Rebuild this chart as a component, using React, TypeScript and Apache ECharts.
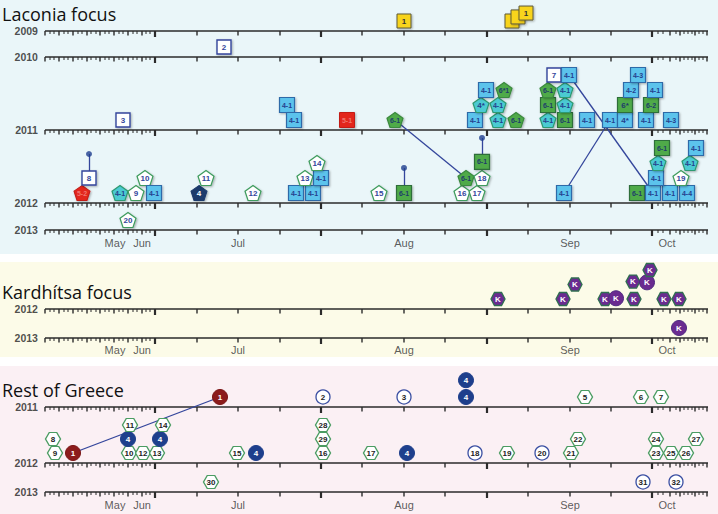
import React, { useEffect, useRef } from "react";
import * as echarts from "echarts";

// ---------- DATA ----------
// Each case: [timeline position, axis row, stack level, marker type, label]
type Mk = [number, string, number, string, string];

const laconiaCases: Mk[] = [
  [404, "L09", 1, "yel", "1"],
  [512, "L09", 1, "yel", ""],
  [518, "L09", 1.27, "yel", ""],
  [526, "L09", 1.53, "yel", "1"],
  [224, "L10", 1, "wsq", "2"],
  [123, "L11", 1, "wsq", "3"],
  [287, "L11", 2, "bsq", "4-1"],
  [294, "L11", 1, "bsq", "4-1"],
  [347, "L11", 1, "rsq", "5-1"],
  [395, "L11", 1, "gpe", "6-1"],
  [475, "L11", 1, "bsq", "4-1"],
  [481, "L11", 2, "cpe", "4*"],
  [486, "L11", 3, "bsq", "4-1"],
  [498, "L11", 1, "cpe", "4-1"],
  [498, "L11", 2, "cpe", "4-1"],
  [504, "L11", 3, "gpe", "6*1"],
  [516, "L11", 1, "gpe", "6-1"],
  [548, "L11", 1, "cpe", "4-1"],
  [548, "L11", 2, "gsq", "6-1"],
  [548, "L11", 3, "gpe", "6-1"],
  [554, "L11", 4, "wsq", "7"],
  [565, "L11", 1, "gsq", "6-1"],
  [565, "L11", 2, "cpe", "4-1"],
  [565, "L11", 3, "cpe", "4-1"],
  [569, "L11", 4, "bsq", "4-1"],
  [587, "L11", 1, "bsq", "4-1"],
  [610, "L11", 1, "bsq", "4-1"],
  [625, "L11", 1, "bsq", "4*"],
  [625, "L11", 2, "gsq", "6*"],
  [631, "L11", 3, "bsq", "4-2"],
  [638, "L11", 4, "bsq", "4-3"],
  [646, "L11", 1, "bsq", "4-1"],
  [651, "L11", 2, "gsq", "6-2"],
  [655, "L11", 3, "bsq", "4-1"],
  [671, "L11", 1, "bsq", "4-3"],
  [82, "L12", 1, "rpe", "5-2"],
  [89, "L12", 2, "wsq", "8"],
  [120, "L12", 1, "cpe", "4-1"],
  [136, "L12", 1, "wpe", "9"],
  [145, "L12", 2, "wpe", "10"],
  [154, "L12", 1, "bsq", "4-1"],
  [199, "L12", 1, "npe", "4"],
  [206, "L12", 2, "wpe", "11"],
  [253, "L12", 1, "wpe", "12"],
  [296, "L12", 1, "bsq", "4-1"],
  [313, "L12", 1, "bsq", "4-1"],
  [305, "L12", 2, "wpe", "13"],
  [321, "L12", 2, "bsq", "4-1"],
  [317, "L12", 3, "wpe", "14"],
  [379, "L12", 1, "wpe", "15"],
  [404, "L12", 1, "gsq", "6-1"],
  [462, "L12", 1, "wpe", "16"],
  [477, "L12", 1, "wpe", "17"],
  [466, "L12", 2, "gpe", "6-1"],
  [482, "L12", 2, "wpe", "18"],
  [482, "L12", 3.07, "gsq", "6-1"],
  [564, "L12", 1, "bsq", "4-1"],
  [637, "L12", 1, "gsq", "6-1"],
  [653, "L12", 1, "bsq", "4-1"],
  [670, "L12", 1, "bsq", "4-1"],
  [687, "L12", 1, "bsq", "4-4"],
  [656, "L12", 2, "bsq", "4-1"],
  [658, "L12", 3, "cpe", "4-1"],
  [662, "L12", 4, "gsq", "6-1"],
  [681, "L12", 2, "wpe", "19"],
  [690, "L12", 3, "cpe", "4-1"],
  [696, "L12", 4, "bsq", "4-1"],
  [128, "L13", 1, "wpe", "20"],
];

const kardhitsaCases: Mk[] = [
  [498, "K12", 1, "khx", "K"],
  [563, "K12", 1, "khx", "K"],
  [575, "K12", 2, "khx", "K"],
  [605, "K12", 1, "khx", "K"],
  [616, "K12", 1.05, "kci", "K"],
  [634, "K12", 1, "khx", "K"],
  [633, "K12", 2.2, "khx", "K"],
  [647, "K12", 2.15, "kci", "K"],
  [650, "K12", 3, "khx", "K"],
  [664, "K12", 1, "khx", "K"],
  [679, "K12", 1, "khx", "K"],
  [679, "K13", 1, "kci", "K"],
];

const restCases: Mk[] = [
  [220, "R11", 1, "dci", "1"],
  [323, "R11", 1, "wci", "2"],
  [404, "R11", 1, "wci", "3"],
  [466, "R11", 1, "nci", "4"],
  [466, "R11", 2.2, "nci", "4"],
  [585, "R11", 1, "whx", "5"],
  [641, "R11", 1, "whx", "6"],
  [661, "R11", 1, "whx", "7"],
  [55, "R12", 1, "whx", "9"],
  [53, "R12", 2, "whx", "8"],
  [73, "R12", 1, "dci", "1"],
  [129, "R12", 1, "whx", "10"],
  [143, "R12", 1, "whx", "12"],
  [157, "R12", 1, "whx", "13"],
  [128, "R12", 2, "nci", "4"],
  [160, "R12", 2, "nci", "4"],
  [130, "R12", 3, "whx", "11"],
  [163, "R12", 3, "whx", "14"],
  [237, "R12", 1, "whx", "15"],
  [256, "R12", 1, "nci", "4"],
  [323, "R12", 1, "whx", "16"],
  [323, "R12", 2, "whx", "29"],
  [323, "R12", 3, "whx", "28"],
  [371, "R12", 1, "whx", "17"],
  [407, "R12", 1, "nci", "4"],
  [475, "R12", 1, "wci", "18"],
  [507, "R12", 1, "whx", "19"],
  [542, "R12", 1, "wci", "20"],
  [571, "R12", 1, "whx", "21"],
  [578, "R12", 2, "whx", "22"],
  [656, "R12", 1, "whx", "23"],
  [656, "R12", 2, "whx", "24"],
  [671, "R12", 1, "whx", "25"],
  [686, "R12", 1, "whx", "26"],
  [696, "R12", 2, "whx", "27"],
  [211, "R13", 1, "whx", "30"],
  [643, "R13", 1, "wci", "31"],
  [676, "R13", 1, "wci", "32"],
];

// links between cases: [x1, row1, level1, x2, row2, level2]
const links: [number, string, number, number, string, number][] = [
  [395, "L11", 1, 466, "L12", 2],
  [569, "L11", 4, 653, "L12", 1],
  [564, "L12", 1, 610, "L11", 1],
  [73, "R12", 1, 220, "R11", 1],
];
// stems with a dot: [x, row, fromLevel, dotLevel]
const stems: [number, string, number, number][] = [
  [89, "L12", 2, 3.6],
  [404, "L12", 1, 2.67],
  [482, "L12", 3.07, 4.67],
];

const yearRows: [string, string][] = [
  ["L09", "2009"], ["L10", "2010"], ["L11", "2011"], ["L12", "2012"], ["L13", "2013"],
  ["K12", "2012"], ["K13", "2013"],
  ["R11", "2011"], ["R12", "2012"], ["R13", "2013"],
];

const monthNames = ["May", "Jun", "Jul", "Aug", "Sep", "Oct"];
const monthPos = [115, 142, 238, 404, 570, 667];

// axis ticks: [position, kind]
const ticks: [number, string][] = [
  [45, "m"], [50, "s"], [54, "s"], [59, "m"], [64, "s"], [68, "s"], [73, "m"], [78, "s"], [82, "s"],
  [87, "m"], [91, "s"], [96, "s"], [100, "m"], [105, "s"], [109, "s"], [114, "m"], [119, "s"], [123, "s"],
  [128, "m"], [133, "s"], [137, "s"], [142, "m"], [146, "s"], [150, "s"], [155, "b"],
  [197, "m"], [238, "m"], [280, "m"], [321, "b"], [362, "m"], [404, "m"], [445, "m"], [487, "b"],
  [528, "m"], [570, "m"], [611, "m"], [652, "b"],
  [658, "s"], [663, "s"], [670, "m"], [676, "s"], [680, "m"], [684, "s"], [688, "s"], [692, "s"],
  [695, "m"], [699, "s"], [703, "s"], [707, "m"],
];

// ---------- LAYOUT ----------
const ROWS: Record<string, { y: number; step: number }> = {
  L09: { y: 31, step: 15 }, L10: { y: 57, step: 15 }, L11: { y: 130, step: 15 },
  L12: { y: 203, step: 15 }, L13: { y: 230, step: 15 },
  K12: { y: 309, step: 14.5 }, K13: { y: 338, step: 14.5 },
  R11: { y: 407, step: 14 }, R12: { y: 463, step: 14 }, R13: { y: 492, step: 14 },
};
const MONTH_Y = [243, 350, 505];
const AX0 = 45, AX1 = 708;
const yOf = (row: string, lvl: number) => ROWS[row].y - 10 - (lvl - 1) * ROWS[row].step;

const PENT = "path://M0,-10L9.51,-3.09L5.88,8.09L-5.88,8.09L-9.51,-3.09Z";
const HEX = "path://M-10,0L-5,-8.66L5,-8.66L10,0L5,8.66L-5,8.66Z";

const STY: Record<string, any> = {
  yel: { s: "rect", z: [14, 14], f: "#f8d41e", b: "#5e5a3a", t: "#333", bw: 1 },
  wsq: { s: "rect", z: [14, 14], f: "#ffffff", b: "#34469c", t: "#34469c", bw: 1.4 },
  bsq: { s: "rect", z: [15, 15], f: "#5cc3ec", b: "#2f6aa8", t: "#24408c", bw: 1.2 },
  gsq: { s: "rect", z: [15, 15], f: "#4faa48", b: "#2e6e3a", t: "#1f3d6a", bw: 1.2 },
  rsq: { s: "rect", z: [15, 15], f: "#e3261f", b: "#c21d18", t: "#f0766e", bw: 1 },
  wpe: { s: PENT, z: [16, 15], f: "#ffffff", b: "#3f9c5e", t: "#34469c", bw: 1.2 },
  cpe: { s: PENT, z: [16, 15], f: "#4ccad2", b: "#2e9a72", t: "#24408c", bw: 1.2 },
  gpe: { s: PENT, z: [16, 15], f: "#4faa48", b: "#3b8a3f", t: "#1f3d6a", bw: 1.2 },
  npe: { s: PENT, z: [16, 15], f: "#1b3a6c", b: "#1b3a6c", t: "#ffffff", bw: 1 },
  rpe: { s: PENT, z: [16, 15], f: "#e3261f", b: "#c21d18", t: "#f0766e", bw: 1 },
  whx: { s: HEX, z: [15, 13], f: "#ffffff", b: "#4b9c62", t: "#222222", bw: 1.3 },
  khx: { s: HEX, z: [14, 13], f: "#6a2b90", b: "#2f6e50", t: "#ffffff", bw: 1.3 },
  kci: { s: "circle", z: [15, 15], f: "#6a2b90", b: "#4e2a80", t: "#ffffff", bw: 1 },
  wci: { s: "circle", z: [14, 14], f: "#ffffff", b: "#3a4fa2", t: "#222222", bw: 1.3 },
  nci: { s: "circle", z: [15, 15], f: "#1e3f8c", b: "#1e3f8c", t: "#ffffff", bw: 1 },
  dci: { s: "circle", z: [15, 15], f: "#8c1c1c", b: "#7a1515", t: "#ffffff", bw: 1 },
};

const TICK: Record<string, { w: number; h: number }> = {
  s: { w: 1, h: 3 },
  m: { w: 1.4, h: 4.5 },
  b: { w: 2.2, h: 6 },
};

function markerItem(m: Mk) {
  const [x, row, lvl, type, label] = m;
  const st = STY[type];
  const shadow = st.s === "rect" || st.s === PENT;
  return {
    value: [x, yOf(row, lvl)],
    symbol: st.s,
    symbolSize: st.z,
    itemStyle: {
      color: st.f,
      borderColor: st.b,
      borderWidth: st.bw,
      opacity: 1,
      ...(shadow ? { shadowBlur: 2, shadowColor: "rgba(0,0,0,0.3)", shadowOffsetX: 1, shadowOffsetY: 1 } : {}),
    },
    label: {
      show: label !== "",
      formatter: label,
      position: "inside",
      color: st.t,
      fontSize: label.length > 2 ? 7 : 8,
      fontWeight: "bold",
      fontFamily: "Liberation Sans, Arial, sans-serif",
    },
  };
}

export default function App() {
  const ref = useRef<HTMLDivElement>(null);
  useEffect(() => {
    if (!ref.current) return;
    const chart = echarts.init(ref.current, undefined, { renderer: "svg" });
    const allCases = [...laconiaCases, ...kardhitsaCases, ...restCases];
    const monthData: any[] = [];
    MONTH_Y.forEach((my) => monthNames.forEach((n, i) => monthData.push({ name: n, value: [monthPos[i], my] })));
    const titleStyle = { fontSize: 18, fontFamily: "Open Sans", fill: "#111", verticalAlign: "middle" };
    const option: any = {
      animation: false,
      backgroundColor: "#ffffff",
      grid: { left: AX0, right: 718 - AX1, top: 0, bottom: 0, containLabel: false },
      xAxis: { type: "value", min: AX0, max: AX1, show: false },
      yAxis: { type: "value", min: 0, max: 514, inverse: true, show: false },
      graphic: [
        { type: "rect", silent: true, z: -10, shape: { x: 0, y: 0, width: 718, height: 254 }, style: { fill: "#eaf6f9" } },
        { type: "rect", silent: true, z: -10, shape: { x: 0, y: 262, width: 718, height: 95 }, style: { fill: "#fcfbe8" } },
        { type: "rect", silent: true, z: -10, shape: { x: 0, y: 366, width: 718, height: 148 }, style: { fill: "#fbf0f4" } },
        { type: "text", x: 2, y: 14, style: { text: "Laconia focus", ...titleStyle } },
        { type: "text", x: 2, y: 292, style: { text: "Kardhítsa focus", ...titleStyle } },
        { type: "text", x: 2, y: 390, style: { text: "Rest of Greece", ...titleStyle } },
      ],
      series: [
        {
          type: "custom",
          coordinateSystem: "cartesian2d",
          clip: false,
          silent: true,
          z: 3,
          data: yearRows.map(([k]) => [AX0, ROWS[k].y]),
          renderItem: (_p: any, api: any) => {
            const y = api.value(1);
            const p0 = api.coord([AX0, y]);
            const p1 = api.coord([AX1, y]);
            const children: any[] = [
              { type: "line", shape: { x1: p0[0], y1: p0[1], x2: p1[0], y2: p1[1] }, style: { stroke: "#2b2b2b", lineWidth: 1.5 } },
            ];
            ticks.forEach(([pos, kind]) => {
              const c = api.coord([pos, y]);
              const t = TICK[kind];
              children.push({ type: "rect", shape: { x: c[0] - t.w / 2, y: c[1], width: t.w, height: t.h }, style: { fill: "#2b2b2b" } });
            });
            return { type: "group", children };
          },
        },
        {
          type: "scatter",
          silent: true,
          z: 3,
          symbolSize: 0.1,
          itemStyle: { color: "transparent" },
          data: yearRows.map(([k, yr]) => ({ name: yr, value: [AX0, ROWS[k].y] })),
          label: {
            show: true, position: "left", distance: 7, formatter: "{b}", color: "#222",
            fontSize: 10.5, fontWeight: "bold", fontFamily: "Liberation Sans, Arial, sans-serif",
          },
        },
        {
          type: "scatter",
          silent: true,
          z: 3,
          symbolSize: 0.1,
          itemStyle: { color: "transparent" },
          data: monthData,
          label: {
            show: true, position: "inside", formatter: "{b}", color: "#333",
            fontSize: 11, fontFamily: "Liberation Sans, Arial, sans-serif",
          },
        },
        {
          type: "lines",
          coordinateSystem: "cartesian2d",
          silent: true,
          z: 4,
          lineStyle: { color: "#34469c", width: 1.3, opacity: 1 },
          data: [
            ...links.map(([x1, r1, l1, x2, r2, l2]) => ({ coords: [[x1, yOf(r1, l1)], [x2, yOf(r2, l2)]] })),
            ...stems.map(([x, r, l0, l1]) => ({ coords: [[x, yOf(r, l0)], [x, yOf(r, l1)]] })),
          ],
        },
        {
          type: "scatter",
          silent: true,
          z: 4,
          symbol: "circle",
          symbolSize: 6,
          itemStyle: { color: "#1f3f8f" },
          data: stems.map(([x, r, , l1]) => [x, yOf(r, l1)]),
        },
        {
          type: "scatter",
          silent: true,
          z: 5,
          data: allCases.map(markerItem),
        },
      ],
    };
    chart.setOption(option);
    return () => chart.dispose();
  }, []);
  return <div ref={ref} style={{ position: "fixed", left: 0, top: 0, width: 718, height: 514 }} />;
}
